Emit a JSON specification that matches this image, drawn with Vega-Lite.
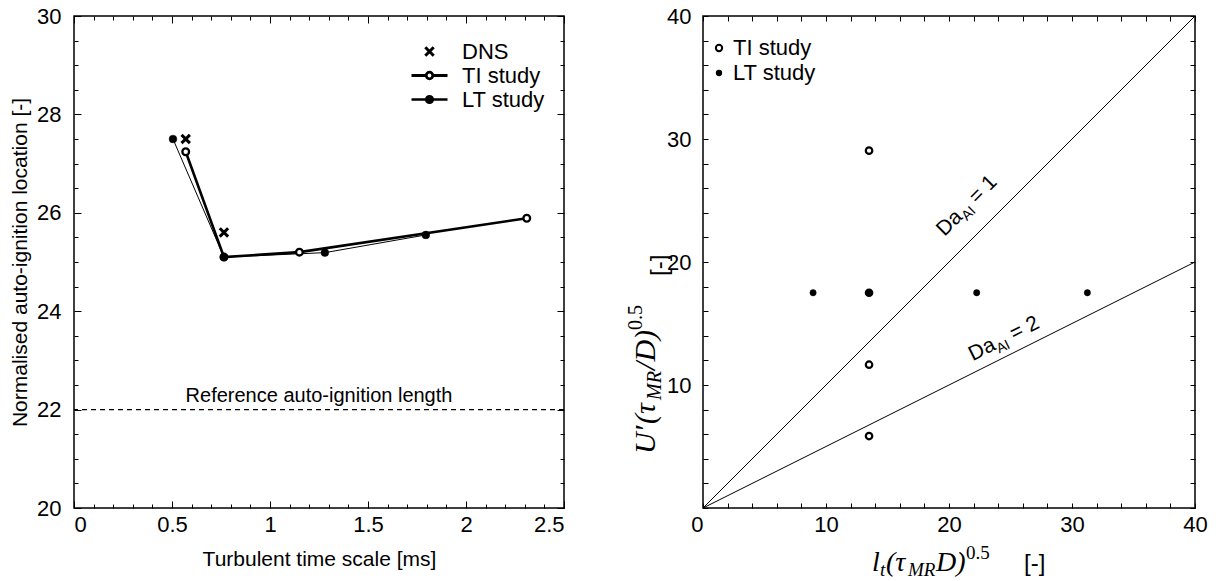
{
  "$schema": "https://vega.github.io/schema/vega-lite/v6.json",
  "padding": {"left": 8, "top": 4, "right": 5, "bottom": 30},
  "bounds": "flush",
  "spacing": 139,
  "datasets": {
    "left": [
      {"series": "DNS", "t": 0.57, "loc": 27.5},
      {"series": "DNS", "t": 0.765, "loc": 25.6},
      {"series": "TI study", "t": 0.57, "loc": 27.24},
      {"series": "TI study", "t": 0.765, "loc": 25.1},
      {"series": "TI study", "t": 1.15, "loc": 25.2},
      {"series": "TI study", "t": 2.31, "loc": 25.89},
      {"series": "LT study", "t": 0.505, "loc": 27.5},
      {"series": "LT study", "t": 0.765, "loc": 25.1},
      {"series": "LT study", "t": 1.28, "loc": 25.19},
      {"series": "LT study", "t": 1.795, "loc": 25.55}
    ],
    "right": [
      {"study": "TI study", "lt": 13.5, "u": 29.05},
      {"study": "TI study", "lt": 13.5, "u": 17.5},
      {"study": "TI study", "lt": 13.5, "u": 11.65},
      {"study": "TI study", "lt": 13.5, "u": 5.85},
      {"study": "LT study", "lt": 8.95, "u": 17.5},
      {"study": "LT study", "lt": 13.5, "u": 17.5},
      {"study": "LT study", "lt": 22.25, "u": 17.5},
      {"study": "LT study", "lt": 31.25, "u": 17.5}
    ],
    "da": [
      {"da": "1", "lt": 0, "u": 0},
      {"da": "1", "lt": 40, "u": 40},
      {"da": "2", "lt": 0, "u": 0},
      {"da": "2", "lt": 40, "u": 20}
    ],
    "one": [{}]
  },
  "resolve": {
    "scale": {"x": "independent", "y": "independent", "shape": "independent", "fill": "independent", "stroke": "independent", "strokeWidth": "independent"}
  },
  "hconcat": [
    {
      "width": 490,
      "height": 492,
      "resolve": {"axis": {"x": "independent", "y": "independent"}},
      "layer": [
        {
          "data": {"name": "one"},
          "mark": {"type": "rule", "strokeDash": [5, 4], "strokeWidth": 1.2, "color": "black"},
          "encoding": {
            "y": {"datum": 22, "type": "quantitative", "scale": {"domain": [20, 30], "nice": false, "zero": false},
              "axis": {"orient": "right", "values": [20.5, 21, 21.5, 22.5, 23, 23.5, 24.5, 25, 25.5, 26.5, 27, 27.5, 28.5, 29, 29.5], "offset": -4, "tickSize": 4, "labels": false, "title": null}}
          }
        },
        {
          "data": {"name": "one"},
          "mark": {"type": "text", "text": "Reference auto-ignition length", "fontSize": 20, "align": "center", "baseline": "bottom", "dy": -4},
          "encoding": {
            "x": {"datum": 1.25, "type": "quantitative", "scale": {"domain": [0, 2.5], "nice": false},
              "axis": {"orient": "top", "values": [0.1, 0.2, 0.3, 0.4, 0.6, 0.7, 0.8, 0.9, 1.1, 1.2, 1.3, 1.4, 1.6, 1.7, 1.8, 1.9, 2.1, 2.2, 2.3, 2.4], "offset": -4, "tickSize": 4, "labels": false, "title": null}},
            "y": {"datum": 22, "type": "quantitative", "scale": {"domain": [20, 30], "nice": false, "zero": false}, "axis": null}
          }
        },
        {
          "data": {"name": "left"},
          "transform": [{"filter": "datum.series === 'TI study'"}],
          "mark": {"type": "line", "color": "black", "strokeWidth": 2.6},
          "encoding": {
            "x": {"field": "t", "type": "quantitative", "scale": {"domain": [0, 2.5], "nice": false},
              "axis": {"orient": "bottom", "values": [0, 0.5, 1, 1.5, 2, 2.5], "offset": -7, "tickSize": 7, "labelPadding": 6, "labelExpr": "'' + datum.value", "title": "Turbulent time scale [ms]", "titlePadding": 13}},
            "y": {"field": "loc", "type": "quantitative", "scale": {"domain": [20, 30], "nice": false, "zero": false},
              "axis": {"orient": "left", "values": [20, 22, 24, 26, 28, 30], "offset": -7, "tickSize": 7, "labelPadding": 13, "title": "Normalised auto-ignition location [-]", "titlePadding": 6}}
          }
        },
        {
          "data": {"name": "left"},
          "transform": [{"filter": "datum.series === 'LT study'"}],
          "mark": {"type": "line", "color": "black", "strokeWidth": 1},
          "encoding": {
            "x": {"field": "t", "type": "quantitative", "scale": {"domain": [0, 2.5], "nice": false},
              "axis": {"orient": "bottom", "values": [0.1, 0.2, 0.3, 0.4, 0.6, 0.7, 0.8, 0.9, 1.1, 1.2, 1.3, 1.4, 1.6, 1.7, 1.8, 1.9, 2.1, 2.2, 2.3, 2.4], "offset": -4, "tickSize": 4, "labels": false, "title": null}},
            "y": {"field": "loc", "type": "quantitative", "scale": {"domain": [20, 30], "nice": false, "zero": false},
              "axis": {"orient": "left", "values": [20.5, 21, 21.5, 22.5, 23, 23.5, 24.5, 25, 25.5, 26.5, 27, 27.5, 28.5, 29, 29.5], "offset": -4, "tickSize": 4, "labels": false, "title": null}}
          }
        },
        {
          "data": {"name": "left"},
          "transform": [{"filter": "datum.series === 'DNS'"}],
          "mark": {"type": "point", "shape": "M-1,-1L1,1M1,-1L-1,1", "filled": false, "color": "black", "strokeWidth": 3, "size": 70, "opacity": 1},
          "encoding": {
            "x": {"field": "t", "type": "quantitative", "scale": {"domain": [0, 2.5], "nice": false},
              "axis": {"orient": "top", "values": [0, 0.5, 1, 1.5, 2, 2.5], "offset": -7, "tickSize": 7, "labels": false, "title": null}},
            "y": {"field": "loc", "type": "quantitative", "scale": {"domain": [20, 30], "nice": false, "zero": false},
              "axis": {"orient": "right", "values": [20, 22, 24, 26, 28, 30], "offset": -7, "tickSize": 7, "labels": false, "title": null}}
          }
        },
        {
          "data": {"name": "left"},
          "transform": [{"filter": "datum.series === 'TI study'"}],
          "mark": {"type": "point", "shape": "circle", "filled": true, "fill": "white", "stroke": "black", "strokeWidth": 2.3, "size": 45, "opacity": 1},
          "encoding": {
            "x": {"field": "t", "type": "quantitative", "scale": {"domain": [0, 2.5], "nice": false}, "axis": null},
            "y": {"field": "loc", "type": "quantitative", "scale": {"domain": [20, 30], "nice": false, "zero": false}, "axis": null}
          }
        },
        {
          "data": {"name": "left"},
          "transform": [{"filter": "datum.series === 'LT study'"}],
          "mark": {"type": "point", "shape": "circle", "filled": true, "fill": "black", "stroke": "black", "strokeWidth": 0.5, "size": 60, "opacity": 1},
          "encoding": {
            "x": {"field": "t", "type": "quantitative", "scale": {"domain": [0, 2.5], "nice": false}, "axis": null},
            "y": {"field": "loc", "type": "quantitative", "scale": {"domain": [20, 30], "nice": false, "zero": false}, "axis": null}
          }
        },
        {
          "data": {"name": "left"},
          "mark": {"type": "point", "filled": true, "opacity": 0},
          "encoding": {
            "x": {"field": "t", "type": "quantitative", "scale": {"domain": [0, 2.5], "nice": false}, "axis": null},
            "y": {"field": "loc", "type": "quantitative", "scale": {"domain": [20, 30], "nice": false, "zero": false}, "axis": null},
            "shape": {"field": "series", "type": "nominal",
              "scale": {"domain": ["DNS", "TI study", "LT study"], "range": ["M-0.42,-0.42L0.42,0.42M0.42,-0.42L-0.42,0.42", "M-1.8,0H-0.33M0.33,0H1.8M-0.33,0A0.33,0.33 0 1,1 0.33,0A0.33,0.33 0 1,1 -0.33,0Z", "M-1.8,0H-0.33M0.33,0H1.8M-0.33,0A0.33,0.33 0 1,1 0.33,0A0.33,0.33 0 1,1 -0.33,0Z"]},
              "legend": {
                "title": null, "orient": "none", "legendX": 344, "legendY": 24, "symbolSize": 400, "symbolOpacity": 1, "labelOffset": 21, "rowPadding": 1, "padding": 0,
                "labelFontSize": 22, "labelFont": "Liberation Sans", "labelColor": "black"
              }},
            "fill": {"field": "series", "type": "nominal", "scale": {"domain": ["DNS", "TI study", "LT study"], "range": ["black", "white", "black"]},
              "legend": {
                "title": null, "orient": "none", "legendX": 344, "legendY": 24, "symbolSize": 400, "symbolOpacity": 1, "labelOffset": 21, "rowPadding": 1, "padding": 0,
                "labelFontSize": 22, "labelFont": "Liberation Sans", "labelColor": "black"
              }},
            "stroke": {"field": "series", "type": "nominal", "scale": {"domain": ["DNS", "TI study", "LT study"], "range": ["black", "black", "black"]},
              "legend": {
                "title": null, "orient": "none", "legendX": 344, "legendY": 24, "symbolSize": 400, "symbolOpacity": 1, "labelOffset": 21, "rowPadding": 1, "padding": 0,
                "labelFontSize": 22, "labelFont": "Liberation Sans", "labelColor": "black"
              }},
            "strokeWidth": {"field": "series", "type": "nominal", "scale": {"domain": ["DNS", "TI study", "LT study"], "range": [3, 2.6, 1]},
              "legend": {
                "title": null, "orient": "none", "legendX": 344, "legendY": 24, "symbolSize": 400, "symbolOpacity": 1, "labelOffset": 21, "rowPadding": 1, "padding": 0,
                "labelFontSize": 22, "labelFont": "Liberation Sans", "labelColor": "black"
              }}
          }
        }
      ]
    },
    {
      "width": 492,
      "height": 492,
      "resolve": {"axis": {"x": "independent", "y": "independent"}},
      "layer": [
        {
          "data": {"name": "da"},
          "mark": {"type": "line", "color": "black", "strokeWidth": 1},
          "encoding": {
            "x": {"field": "lt", "type": "quantitative", "scale": {"domain": [0, 40], "nice": false},
              "axis": {"orient": "bottom", "values": [0, 2, 4, 6, 8, 10, 12, 14, 16, 18, 20, 22, 24, 26, 28, 30, 32, 34, 36, 38, 40], "offset": -5, "tickSize": 5, "labelPadding": 6, "labelExpr": "datum.value % 10 === 0 ? '' + datum.value : ''", "labelAlign": {"condition": {"test": "datum.value === 0", "value": "right"}, "value": "center"}, "title": null}},
            "y": {"field": "u", "type": "quantitative", "scale": {"domain": [0, 40], "nice": false},
              "axis": {"orient": "left", "values": [0, 2, 4, 6, 8, 10, 12, 14, 16, 18, 20, 22, 24, 26, 28, 30, 32, 34, 36, 38, 40], "offset": -5, "tickSize": 5, "labelPadding": 12, "labelExpr": "(datum.value % 10 === 0 && datum.value > 0) ? '' + datum.value : ''", "title": null}},
            "detail": {"field": "da", "type": "nominal"}
          }
        },
        {
          "data": {"name": "right"},
          "transform": [{"filter": "datum.study === 'TI study'"}],
          "mark": {"type": "point", "shape": "circle", "filled": true, "fill": "white", "stroke": "black", "strokeWidth": 2.2, "size": 42, "opacity": 1},
          "encoding": {
            "x": {"field": "lt", "type": "quantitative", "scale": {"domain": [0, 40], "nice": false},
              "axis": {"orient": "top", "values": [0, 2, 4, 6, 8, 10, 12, 14, 16, 18, 20, 22, 24, 26, 28, 30, 32, 34, 36, 38, 40], "offset": -5, "tickSize": 5, "labels": false, "title": null}},
            "y": {"field": "u", "type": "quantitative", "scale": {"domain": [0, 40], "nice": false},
              "axis": {"orient": "right", "values": [0, 2, 4, 6, 8, 10, 12, 14, 16, 18, 20, 22, 24, 26, 28, 30, 32, 34, 36, 38, 40], "offset": -5, "tickSize": 5, "labels": false, "title": null}}
          }
        },
        {
          "data": {"name": "right"},
          "transform": [{"filter": "datum.study === 'LT study'"}],
          "mark": {"type": "point", "shape": "circle", "filled": true, "fill": "black", "stroke": "black", "strokeWidth": 0.5, "size": 40, "opacity": 1},
          "encoding": {
            "x": {"field": "lt", "type": "quantitative", "scale": {"domain": [0, 40], "nice": false}, "axis": null},
            "y": {"field": "u", "type": "quantitative", "scale": {"domain": [0, 40], "nice": false}, "axis": null}
          }
        },
        {
          "data": {"name": "right"},
          "mark": {"type": "point", "filled": true, "opacity": 0},
          "encoding": {
            "x": {"field": "lt", "type": "quantitative", "scale": {"domain": [0, 40], "nice": false}, "axis": null},
            "y": {"field": "u", "type": "quantitative", "scale": {"domain": [0, 40], "nice": false}, "axis": null},
            "shape": {"field": "study", "type": "nominal", "scale": {"domain": ["TI study", "LT study"], "range": ["circle", "circle"]},
              "legend": {
                "title": null, "orient": "none", "legendX": 5, "legendY": 21, "symbolSize": 40, "symbolOpacity": 1, "labelOffset": 3, "rowPadding": 3, "padding": 0,
                "labelFontSize": 22, "labelFont": "Liberation Sans", "labelColor": "black"
              }},
            "fill": {"field": "study", "type": "nominal", "scale": {"domain": ["TI study", "LT study"], "range": ["white", "black"]},
              "legend": {
                "title": null, "orient": "none", "legendX": 5, "legendY": 21, "symbolSize": 40, "symbolOpacity": 1, "labelOffset": 3, "rowPadding": 3, "padding": 0,
                "labelFontSize": 22, "labelFont": "Liberation Sans", "labelColor": "black"
              }},
            "stroke": {"field": "study", "type": "nominal", "scale": {"domain": ["TI study", "LT study"], "range": ["black", "black"]},
              "legend": {
                "title": null, "orient": "none", "legendX": 5, "legendY": 21, "symbolSize": 40, "symbolOpacity": 1, "labelOffset": 3, "rowPadding": 3, "padding": 0,
                "labelFontSize": 22, "labelFont": "Liberation Sans", "labelColor": "black"
              }},
            "strokeWidth": {"field": "study", "type": "nominal", "scale": {"domain": ["TI study", "LT study"], "range": [2, 0]},
              "legend": {
                "title": null, "orient": "none", "legendX": 5, "legendY": 21, "symbolSize": 40, "symbolOpacity": 1, "labelOffset": 3, "rowPadding": 3, "padding": 0,
                "labelFontSize": 22, "labelFont": "Liberation Sans", "labelColor": "black"
              }}
          }
        },
        {"data": {"name": "one"}, "mark": {"type": "text", "text": "Da", "font": "Liberation Sans", "fontSize": 21, "angle": 315, "align": "left", "baseline": "alphabetic", "dx": 0, "dy": 0},
          "encoding": {"x": {"datum": 19.63, "type": "quantitative", "scale": {"domain": [0, 40], "nice": false}, "axis": null}, "y": {"datum": 22.04, "type": "quantitative", "scale": {"domain": [0, 40], "nice": false}, "axis": null}}},
        {"data": {"name": "one"}, "mark": {"type": "text", "text": "AI", "font": "Liberation Sans", "fontSize": 14, "angle": 315, "align": "left", "baseline": "alphabetic", "dx": 27, "dy": 5},
          "encoding": {"x": {"datum": 19.63, "type": "quantitative", "scale": {"domain": [0, 40], "nice": false}, "axis": null}, "y": {"datum": 22.04, "type": "quantitative", "scale": {"domain": [0, 40], "nice": false}, "axis": null}}},
        {"data": {"name": "one"}, "mark": {"type": "text", "text": "= 1", "font": "Liberation Sans", "fontSize": 21, "angle": 315, "align": "left", "baseline": "alphabetic", "dx": 46, "dy": 0},
          "encoding": {"x": {"datum": 19.63, "type": "quantitative", "scale": {"domain": [0, 40], "nice": false}, "axis": null}, "y": {"datum": 22.04, "type": "quantitative", "scale": {"domain": [0, 40], "nice": false}, "axis": null}}},
        {"data": {"name": "one"}, "mark": {"type": "text", "text": "Da", "font": "Liberation Sans", "fontSize": 21, "angle": 333.48, "align": "left", "baseline": "alphabetic", "dx": 0, "dy": 0},
          "encoding": {"x": {"datum": 21.94, "type": "quantitative", "scale": {"domain": [0, 40], "nice": false}, "axis": null}, "y": {"datum": 11.94, "type": "quantitative", "scale": {"domain": [0, 40], "nice": false}, "axis": null}}},
        {"data": {"name": "one"}, "mark": {"type": "text", "text": "AI", "font": "Liberation Sans", "fontSize": 14, "angle": 333.48, "align": "left", "baseline": "alphabetic", "dx": 27, "dy": 5},
          "encoding": {"x": {"datum": 21.94, "type": "quantitative", "scale": {"domain": [0, 40], "nice": false}, "axis": null}, "y": {"datum": 11.94, "type": "quantitative", "scale": {"domain": [0, 40], "nice": false}, "axis": null}}},
        {"data": {"name": "one"}, "mark": {"type": "text", "text": "= 2", "font": "Liberation Sans", "fontSize": 21, "angle": 333.48, "align": "left", "baseline": "alphabetic", "dx": 46, "dy": 0},
          "encoding": {"x": {"datum": 21.94, "type": "quantitative", "scale": {"domain": [0, 40], "nice": false}, "axis": null}, "y": {"datum": 11.94, "type": "quantitative", "scale": {"domain": [0, 40], "nice": false}, "axis": null}}},
        {"data": {"name": "one"}, "mark": {"type": "text", "text": "l", "font": "Liberation Serif", "fontStyle": "italic", "fontSize": 28, "align": "left", "baseline": "alphabetic", "dx": 0, "dy": 0},
          "encoding": {"x": {"datum": 13.74, "type": "quantitative", "scale": {"domain": [0, 40], "nice": false}, "axis": null}, "y": {"datum": -5.1, "type": "quantitative", "scale": {"domain": [0, 40], "nice": false}, "axis": null}}},
        {"data": {"name": "one"}, "mark": {"type": "text", "text": "t", "font": "Liberation Serif", "fontStyle": "italic", "fontSize": 19, "align": "left", "baseline": "alphabetic", "dx": 8, "dy": 5},
          "encoding": {"x": {"datum": 13.74, "type": "quantitative", "scale": {"domain": [0, 40], "nice": false}, "axis": null}, "y": {"datum": -5.1, "type": "quantitative", "scale": {"domain": [0, 40], "nice": false}, "axis": null}}},
        {"data": {"name": "one"}, "mark": {"type": "text", "text": "(τ", "font": "Liberation Serif", "fontStyle": "italic", "fontSize": 28, "align": "left", "baseline": "alphabetic", "dx": 14, "dy": 0},
          "encoding": {"x": {"datum": 13.74, "type": "quantitative", "scale": {"domain": [0, 40], "nice": false}, "axis": null}, "y": {"datum": -5.1, "type": "quantitative", "scale": {"domain": [0, 40], "nice": false}, "axis": null}}},
        {"data": {"name": "one"}, "mark": {"type": "text", "text": "MR", "font": "Liberation Serif", "fontStyle": "italic", "fontSize": 19, "align": "left", "baseline": "alphabetic", "dx": 36, "dy": 5},
          "encoding": {"x": {"datum": 13.74, "type": "quantitative", "scale": {"domain": [0, 40], "nice": false}, "axis": null}, "y": {"datum": -5.1, "type": "quantitative", "scale": {"domain": [0, 40], "nice": false}, "axis": null}}},
        {"data": {"name": "one"}, "mark": {"type": "text", "text": "D)", "font": "Liberation Serif", "fontStyle": "italic", "fontSize": 28, "align": "left", "baseline": "alphabetic", "dx": 64, "dy": 0},
          "encoding": {"x": {"datum": 13.74, "type": "quantitative", "scale": {"domain": [0, 40], "nice": false}, "axis": null}, "y": {"datum": -5.1, "type": "quantitative", "scale": {"domain": [0, 40], "nice": false}, "axis": null}}},
        {"data": {"name": "one"}, "mark": {"type": "text", "text": "0.5", "font": "Liberation Serif", "fontSize": 19, "align": "left", "baseline": "alphabetic", "dx": 94, "dy": -12},
          "encoding": {"x": {"datum": 13.74, "type": "quantitative", "scale": {"domain": [0, 40], "nice": false}, "axis": null}, "y": {"datum": -5.1, "type": "quantitative", "scale": {"domain": [0, 40], "nice": false}, "axis": null}}},
        {"data": {"name": "one"}, "mark": {"type": "text", "text": "[-]", "font": "Liberation Sans", "fontSize": 24, "align": "left", "baseline": "alphabetic", "dx": 152, "dy": 0},
          "encoding": {"x": {"datum": 13.74, "type": "quantitative", "scale": {"domain": [0, 40], "nice": false}, "axis": null}, "y": {"datum": -5.1, "type": "quantitative", "scale": {"domain": [0, 40], "nice": false}, "axis": null}}},
        {"data": {"name": "one"}, "mark": {"type": "text", "text": "U′", "font": "Liberation Serif", "fontStyle": "italic", "fontSize": 30, "angle": 270, "align": "left", "baseline": "alphabetic", "dx": 0, "dy": 0},
          "encoding": {"x": {"datum": -3.9, "type": "quantitative", "scale": {"domain": [0, 40], "nice": false}, "axis": null}, "y": {"datum": 4.4, "type": "quantitative", "scale": {"domain": [0, 40], "nice": false}, "axis": null}}},
        {"data": {"name": "one"}, "mark": {"type": "text", "text": "(τ", "font": "Liberation Serif", "fontStyle": "italic", "fontSize": 30, "angle": 270, "align": "left", "baseline": "alphabetic", "dx": 30, "dy": 0},
          "encoding": {"x": {"datum": -3.9, "type": "quantitative", "scale": {"domain": [0, 40], "nice": false}, "axis": null}, "y": {"datum": 4.4, "type": "quantitative", "scale": {"domain": [0, 40], "nice": false}, "axis": null}}},
        {"data": {"name": "one"}, "mark": {"type": "text", "text": "MR", "font": "Liberation Serif", "fontStyle": "italic", "fontSize": 20, "angle": 270, "align": "left", "baseline": "alphabetic", "dx": 54, "dy": 6},
          "encoding": {"x": {"datum": -3.9, "type": "quantitative", "scale": {"domain": [0, 40], "nice": false}, "axis": null}, "y": {"datum": 4.4, "type": "quantitative", "scale": {"domain": [0, 40], "nice": false}, "axis": null}}},
        {"data": {"name": "one"}, "mark": {"type": "text", "text": "/D)", "font": "Liberation Serif", "fontStyle": "italic", "fontSize": 30, "angle": 270, "align": "left", "baseline": "alphabetic", "dx": 84, "dy": 0},
          "encoding": {"x": {"datum": -3.9, "type": "quantitative", "scale": {"domain": [0, 40], "nice": false}, "axis": null}, "y": {"datum": 4.4, "type": "quantitative", "scale": {"domain": [0, 40], "nice": false}, "axis": null}}},
        {"data": {"name": "one"}, "mark": {"type": "text", "text": "0.5", "font": "Liberation Serif", "fontSize": 20, "angle": 270, "align": "left", "baseline": "alphabetic", "dx": 124, "dy": -13},
          "encoding": {"x": {"datum": -3.9, "type": "quantitative", "scale": {"domain": [0, 40], "nice": false}, "axis": null}, "y": {"datum": 4.4, "type": "quantitative", "scale": {"domain": [0, 40], "nice": false}, "axis": null}}},
        {"data": {"name": "one"}, "mark": {"type": "text", "text": "[-]", "font": "Liberation Sans", "fontSize": 24, "angle": 270, "align": "left", "baseline": "alphabetic", "dx": 178, "dy": 12},
          "encoding": {"x": {"datum": -3.9, "type": "quantitative", "scale": {"domain": [0, 40], "nice": false}, "axis": null}, "y": {"datum": 4.4, "type": "quantitative", "scale": {"domain": [0, 40], "nice": false}, "axis": null}}}
      ]
    }
  ],
  "config": {
    "view": {"stroke": "black", "strokeWidth": 1.5},
    "axis": {"grid": false, "domain": false, "labelFont": "Liberation Sans", "titleFont": "Liberation Sans", "labelFontSize": 22, "titleFontSize": 21, "labelColor": "black", "titleColor": "black", "tickColor": "black", "tickWidth": 1, "titleFontWeight": "normal"},
    "legend": {"labelFont": "Liberation Sans", "labelFontSize": 22, "labelColor": "black"},
    "text": {"font": "Liberation Sans", "color": "black"}
  }
}
